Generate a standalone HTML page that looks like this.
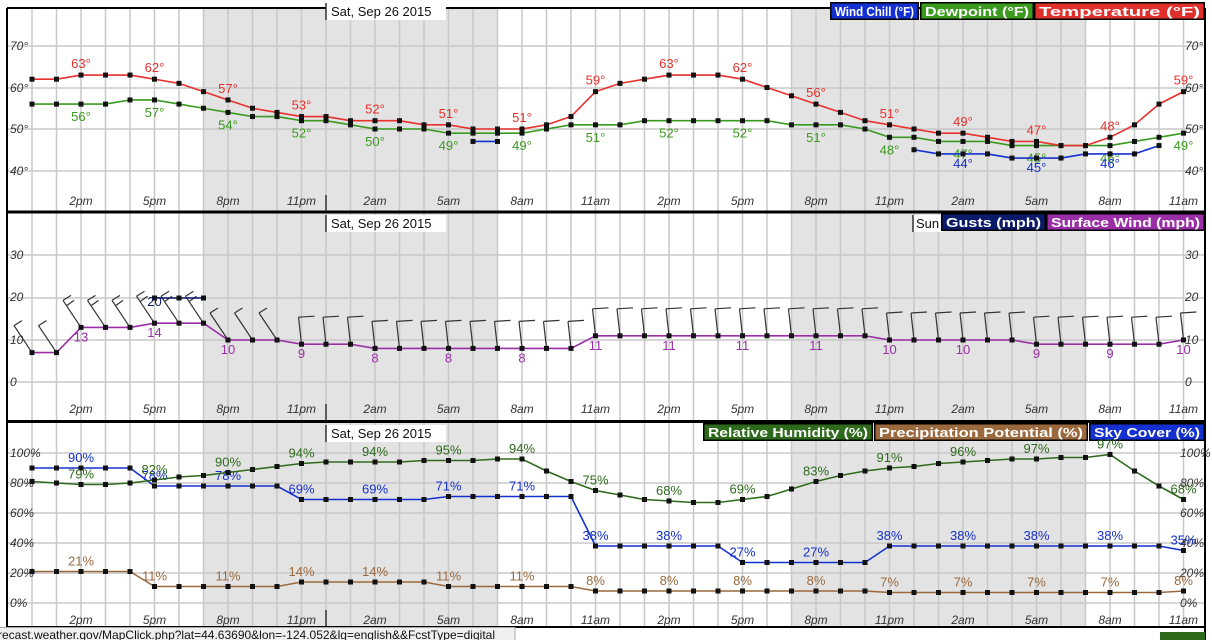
<!DOCTYPE html>
<html><head><meta charset="utf-8"><style>
body{margin:0;background:#fff;width:1212px;height:640px;overflow:hidden}
svg{display:block;font-family:"Liberation Sans",Arial,sans-serif}
.ax{font-size:12px;font-style:italic;fill:#333}
.lg{font-size:12.5px;font-weight:bold;fill:#fff}
</style></head><body>
<svg id="s" width="1212" height="640" xmlns="http://www.w3.org/2000/svg"></svg>
<script>
const S=document.getElementById('s');let o='';
const X=h=>32+24.5*h;
function line(x1,y1,x2,y2,c,w){o+=`<line x1="${x1}" y1="${y1}" x2="${x2}" y2="${y2}" stroke="${c}" stroke-width="${w||1}"/>`;}
function rect(x,y,w,h,c){o+=`<rect x="${x}" y="${y}" width="${w}" height="${h}" fill="${c}"/>`;}
function txt(x,y,t,c,cls,anc,sz,tl){o+=`<text x="${x}" y="${y}" fill="${c}" ${cls?`class="${cls}"`:''} ${anc?`text-anchor="${anc}"`:''} ${sz?`font-size="${sz}"`:''} ${tl?`textLength="${tl}" lengthAdjust="spacingAndGlyphs"`:''}>${t}</text>`;}
const LH=[2,5,8,11,14,17,20,23,26,29,32,35,38,41,44,47];
function series(vals,Y,c,h0,labs,suf,loff){
 let pts=[];vals.forEach((v,i)=>{if(v!=null)pts.push([X(h0+i),Y(v),v,h0+i]);});
 o+=`<polyline fill="none" stroke="${c}" stroke-width="1.6" points="${pts.map(p=>p[0]+','+p[1]).join(' ')}"/>`;
 pts.forEach(p=>rect(p[0]-2.5,p[1]-2.5,5,5,'#111'));
 pts.forEach(p=>{if(labs&&labs[p[3]]!=null)txt(p[0],p[1]+loff,labs[p[3]]+suf,c,null,'middle',13);});
}
function L(arr,hs){const m={};(hs||LH).forEach((h,i)=>m[h]=arr[i]);return m;}
const panels=[[8,211],[213,420],[423,626]];
panels.forEach(([t,b])=>{rect(X(7),t,X(19)-X(7),b-t,'#e3e3e3');rect(X(31),t,X(43)-X(31),b-t,'#e3e3e3');
 for(let h=0;h<=47;h++)line(X(h),t,X(h),b,'#c8c8c8',1.5);});
[46,88,129,171].forEach(y=>line(8,y,1205,y,'#c8c8c8',1.5));
[255,298,340,382].forEach(y=>line(8,y,1205,y,'#c8c8c8',1.5));
[453,483,513,543,573,603].forEach(y=>line(8,y,1205,y,'#c8c8c8',1.5));
line(7,8,7,640,'#000',2);line(1205,8,1205,640,'#000',2);line(7,8,1205,8,'#000',2);
line(7,212,1205,212,'#000',3);line(7,421.5,1205,421.5,'#000',3);line(7,627,1205,627,'#000',2);
const tl=['2pm','5pm','8pm','11pm','2am','5am','8am','11am','2pm','5pm','8pm','11pm','2am','5am','8am','11am'];
[205,413,624].forEach(y=>tl.forEach((t,i)=>txt(X(2+3*i),y,t,'#222','ax','middle')));
[[70,50],[60,92],[50,133],[40,175]].forEach(([v,y])=>{txt(10,y,v+'°','#333','ax');txt(1185,y,v+'°','#333','ax');});
[[30,259],[20,301],[10,344],[0,386]].forEach(([v,y])=>{txt(10,y,v,'#333','ax');txt(1185,y,v,'#333','ax');});
[[100,457],[80,487],[60,517],[40,547],[20,577],[0,607]].forEach(([v,y])=>{txt(10,y,v+'%','#333','ax');txt(1180,y,v+'%','#333','ax');});
[[3,211],[215,420],[425,626]].forEach(([t,b])=>{rect(326,t,120,17,'#fff');line(326,t,326,t+17,'#333',1.5);line(326,b-16,326,b,'#333',1.5);txt(331,t+13,'Sat, Sep 26 2015','#111',null,null,13);});
rect(913,215,30,17,'#fff');line(913,215,913,232,'#333',1.5);txt(916,228,'Sun','#111',null,null,13);
function lg(x,w,y,c,t){rect(x,y,w,18,'#000');rect(x+1.5,y+1.5,w-3,15,c);txt(x+w/2,y+14,t,'#fff','lg','middle',null,w-10);}
lg(830,89,2,'#1530d0','Wind Chill (°F)');lg(920,114,2,'#3a9a1e','Dewpoint (°F)');lg(1034,171,2,'#e0302c','Temperature (°F)');
lg(941,105,213,'#0c1a6a','Gusts (mph)');lg(1046,159,213,'#9a2ea6','Surface Wind (mph)');
lg(703,170,423,'#2e6a1c','Relative Humidity (%)');lg(874,214,423,'#9a6a3e','Precipitation Potential (%)');lg(1089,116,423,'#1530d0','Sky Cover (%)');
// panel 1
const YT=v=>129-(v-50)*4.15;
const temp=[62,62,63,63,63,62,61,59,57,55, 54,53,53,52,52,52,51,51,50,50, 50,51,53,59,61,62,63,63,63,62, 60,58,56,54,52,51,50,49,49,48, 47,47,46,46,48,51,56,59];
const dew=[56,56,56,56,57,57,56,55,54,53, 53,52,52,51,50,50,50,49,49,49, 49,50,51,51,51,52,52,52,52,52, 52,51,51,51,50,48,48,47,47,47, 46,46,46,46,46,47,48,49];
series(dew,YT,'#3a9a1e',0,L([56,57,54,52,50,49,49,51,52,52,51,48,47,45,46,49]),'°',17);
series(temp,YT,'#e8302c',0,L([63,62,57,53,52,51,51,59,63,62,56,51,49,47,48,59]),'°',-7);
series([47,47],YT,'#1530d0',18,null,'',0);
series([45,44,44,44,43,43,43,44,44,44,46],YT,'#1530d0',36,L([44,45,46],[38,41,44]),'°',14);
// panel 2
const YW=v=>382-4.2*v;
const wind=[7,7,13,13,13,14,14,14,10,10,10,9,9,9,8,8,8,8,8,8,8,8,8,11,11,11,11,11,11,11,11,11,11,11,11,10,10,10,10,10,10,9,9,9,9,9,9,10];
wind.forEach((v,h)=>{const x=X(h),y=YW(v);
 if(h<=10){const tx=x-18,ty=y-27;line(x,y,tx,ty,'#333',1.2);line(tx,ty,tx+8,ty-5,'#333',1.2);if(v>=13)line(tx+4,ty+5,tx+11,ty,'#333',1.2);}
 else{const tx=x-3,ty=y-27;line(x,y,tx,ty,'#333',1.2);line(tx,ty,tx+16,ty-1,'#333',1.2);}
});
series([20,20,20],YW,'#0c1a6a',5,{5:20},'',8);
series(wind,YW,'#9a2ea6',0,L([13,14,10,9,8,8,8,11,11,11,11,10,10,9,9,10]),'',14);
// panel 3
const YP=v=>603-1.5*v;
const rh=[81,80,79,79,80,82,84,85,87,89, 91,93,94,94,94,94,95,95,95,96, 96,88,81,75,72,69,68,67,67,69, 71,76,81,85,88,90,91,93,94,95, 96,96,97,97,99,88,78,69];
const sky=[90,90,90,90,90,78,78,78,78,78, 78,69,69,69,69,69,69,71,71,71, 71,71,71,38,38,38,38,38,38,27, 27,27,27,27,27,38,38,38,38,38, 38,38,38,38,38,38,38,35];
const pp=[21,21,21,21,21,11,11,11,11,11, 11,14,14,14,14,14,14,11,11,11, 11,11,11,8,8,8,8,8,8,8, 8,8,8,8,8,7,7,7,7,7, 7,7,7,7,7,7,7,8];
series(pp,YP,'#9a6a3e',0,L([21,11,11,14,14,11,11,8,8,8,8,7,7,7,7,8]),'%',-6);
series(sky,YP,'#1530d0',0,L([90,78,78,69,69,71,71,38,38,27,27,38,38,38,38,35]),'%',-6);
series(rh,YP,'#2e6a1c',0,L([79,82,90,94,94,95,94,75,68,69,83,91,96,97,97,68]),'%',-6);
rect(0,627,515,13,'#f0f0f0');line(0,627.5,515,627.5,'#aaa');line(515,627,515,640,'#aaa');
txt(-2,639,'recast.weather.gov/MapClick.php?lat=44.63690&amp;lon=-124.052&amp;lg=english&amp;&amp;FcstType=digital','#111',null,null,12);
rect(1160,632,45,8,'#2e6a1c');
S.innerHTML=o;
</script>
</body></html>
